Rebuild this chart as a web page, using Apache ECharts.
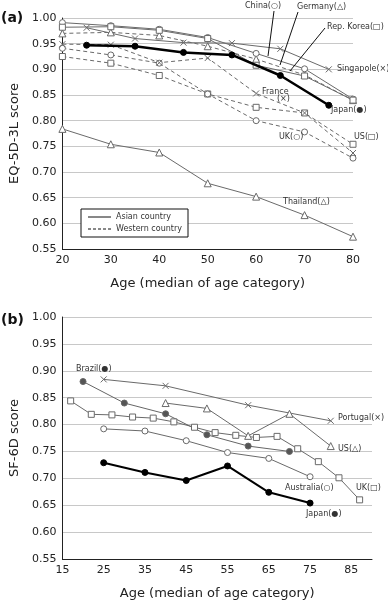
<!DOCTYPE html>
<html>
<head>
<meta charset="utf-8">
<script src="https://cdn.jsdelivr.net/npm/echarts@6/dist/echarts.min.js"></script>
<style>
  html, body { margin: 0; padding: 0; background: #fff; }
  #chart { width: 388px; height: 602px; }
</style>
</head>
<body>
<div id="chart"></div>
<script>
// panel (a): EQ-5D-3L
const ageTen = [20, 30, 40, 50, 60, 70, 80];
const ageMid = [25, 35, 45, 55, 65, 75];
const chinaA = [0.991, 0.985, 0.978, 0.962, 0.931, 0.901, 0.842];
const koreaA = [0.982, 0.983, 0.976, 0.960, 0.908, 0.887, 0.840];
const singaporeA = [0.981, 0.960, 0.952, 0.951, 0.940, 0.900];
const thailandA = [0.784, 0.754, 0.738, 0.678, 0.652, 0.616, 0.574];
const japanA = [0.947, 0.945, 0.933, 0.928, 0.888, 0.830];
const germanyA = [0.970, 0.972, 0.966, 0.945, 0.920, 0.889, 0.840];
const franceA = [0.949, 0.948, 0.913, 0.922, 0.853, 0.815, 0.737];
const ukA = [0.941, 0.928, 0.912, 0.852, 0.800, 0.778, 0.727];
const usA = [0.925, 0.912, 0.888, 0.852, 0.826, 0.815, 0.754];

// panel (b): SF-6D
const brazilAge = [20, 30, 40, 50, 60, 70];
const brazilB = [0.880, 0.840, 0.820, 0.781, 0.760, 0.750];
const portugalAge = [25, 40, 60, 80];
const portugalB = [0.884, 0.872, 0.836, 0.807];
const usAgeB = [40, 50, 60, 70, 80];
const usB = [0.840, 0.830, 0.779, 0.820, 0.760];
const ukAgeB = [17, 22, 27, 32, 37, 42, 47, 52, 57, 62, 67, 72, 77, 82, 87];
const ukB = [0.844, 0.819, 0.818, 0.814, 0.812, 0.805, 0.795, 0.785, 0.780, 0.776, 0.778, 0.755, 0.731, 0.701, 0.660];
const australiaB = [0.792, 0.788, 0.770, 0.748, 0.737, 0.703];
const japanB = [0.729, 0.711, 0.696, 0.723, 0.674, 0.654];

const yTicksFmt = v => v.toFixed(2);

const FONT = 'DejaVu Sans';
const GRAY = '#6a6a6a';
const CROSS = 'path://M0,0L10,10M10,0L0,10';

function zip(xs, ys) { return xs.map((x, i) => [x, ys[i]]); }

function line(idx, xs, ys, symbol, opts) {
  opts = opts || {};
  const col = opts.color || GRAY;
  const isCross = symbol === CROSS;
  return {
    type: 'line',
    xAxisIndex: idx, yAxisIndex: idx,
    data: zip(xs, ys),
    symbol: symbol,
    symbolSize: opts.size || 6,
    showAllSymbol: true,
    z: opts.z || 2,
    animation: false,
    lineStyle: { color: col, width: opts.width || 1, type: opts.dashed ? [4, 3] : 'solid' },
    itemStyle: {
      color: opts.fill || (isCross ? col : '#fff'),
      borderColor: col,
      borderWidth: 1
    },
    emphasis: { disabled: true }
  };
}

function xAxis(idx, min, max) {
  return {
    type: 'value', gridIndex: idx, min: min, max: max, interval: 10,
    name: 'Age (median of age category)', nameLocation: 'middle', nameGap: 28,
    nameTextStyle: { fontFamily: FONT, fontSize: 13, color: '#222' },
    axisLine: { show: true, lineStyle: { color: '#222', width: 1 } },
    axisTick: { show: false },
    splitLine: { show: false },
    axisLabel: { fontFamily: FONT, fontSize: 11, color: '#222', margin: 6, showMaxLabel: idx === 0 }
  };
}

function yAxis(idx, name) {
  return {
    type: 'value', gridIndex: idx, min: 0.55, max: 1.0, interval: 0.05,
    name: name, nameLocation: 'middle', nameGap: 41,
    nameTextStyle: { fontFamily: FONT, fontSize: 13, color: '#222' },
    axisLine: { show: true, lineStyle: { color: '#222', width: 1 } },
    axisTick: { show: false },
    splitLine: { show: true, lineStyle: { color: '#c8c8c8', width: 1 } },
    axisLabel: { fontFamily: FONT, fontSize: 11, color: '#222', margin: 6, formatter: yTicksFmt }
  };
}

function txt(x, y, s, extra) {
  return Object.assign({
    type: 'text', x: x, y: y, z: 10,
    style: { text: s, fontFamily: FONT, fontSize: 8, fill: '#333', verticalAlign: 'middle' }
  }, extra || {});
}
function seg(x1, y1, x2, y2, dashed, w) {
  return {
    type: 'line', z: 10,
    shape: { x1: x1, y1: y1, x2: x2, y2: y2 },
    style: { stroke: '#111', lineWidth: w || 1, lineDash: dashed ? [3, 2] : null }
  };
}

const chart = echarts.init(document.getElementById('chart'));
chart.setOption({
  animation: false,
  backgroundColor: '#fff',
  grid: [
    { left: 62, right: 35, top: 18, bottom: 353 },
    { left: 62, right: 16, top: 317, bottom: 43 }
  ],
  xAxis: [xAxis(0, 20, 80), xAxis(1, 15, 90)],
  yAxis: [yAxis(0, 'EQ-5D-3L score'), yAxis(1, 'SF-6D score')],
  series: [
    line(0, ageTen, thailandA, 'triangle', { size: 7 }),
    line(0, ageTen, usA, 'rect', { dashed: true }),
    line(0, ageTen, ukA, 'circle', { dashed: true }),
    line(0, ageTen, franceA, CROSS, { dashed: true }),
    line(0, ageTen, germanyA, 'triangle', { dashed: true, size: 7 }),
    line(0, ageMid, singaporeA, CROSS),
    line(0, ageTen, chinaA, 'circle'),
    line(0, ageTen, koreaA, 'rect'),
    line(0, ageMid, japanA, 'circle', { color: '#000', fill: '#000', width: 2.5, z: 5 }),

    line(1, portugalAge, portugalB, CROSS),
    line(1, usAgeB, usB, 'triangle', { size: 7 }),
    line(1, ukAgeB, ukB, 'rect', { size: 6 }),
    line(1, brazilAge, brazilB, 'circle', { color: '#666', fill: '#555' }),
    line(1, ageMid, australiaB, 'circle'),
    line(1, ageMid, japanB, 'circle', { color: '#000', fill: '#000', width: 2, z: 5 })
  ],
  graphic: [
    // panel tags
    txt(1, 18, '(a)', { style: { text: '(a)', fontFamily: FONT, fontSize: 14, fontWeight: 'bold', fill: '#111', verticalAlign: 'middle' } }),
    txt(1, 320, '(b)', { style: { text: '(b)', fontFamily: FONT, fontSize: 14, fontWeight: 'bold', fill: '#111', verticalAlign: 'middle' } }),

    // legend box
    { type: 'rect', z: 9, shape: { x: 81, y: 209, width: 107, height: 28 },
      style: { fill: '#fff', stroke: '#111', lineWidth: 1 } },
    seg(88, 217, 111, 217, false),
    seg(88, 229, 111, 229, true),
    txt(116, 217, 'Asian country'),
    txt(116, 229, 'Western country'),

    // panel (a) annotations
    txt(245, 6, 'China(○)'),
    txt(297, 7, 'Germany(△)'),
    txt(327, 27, 'Rep. Korea(□)'),
    seg(274, 11, 268, 56),
    seg(298, 12, 280, 65),
    seg(325, 28, 290, 71),
    txt(337, 69, 'Singapole(×)'),
    txt(262, 92, 'France'),
    txt(277, 99, '(×)'),
    txt(331, 110, 'Japan(●)'),
    txt(279, 137, 'UK(○)'),
    txt(354, 137, 'US(□)'),
    txt(283, 202, 'Thailand(△)'),

    // panel (b) annotations
    txt(76, 369, 'Brazil(●)'),
    txt(338, 418, 'Portugal(×)'),
    txt(338, 449, 'US(△)'),
    txt(285, 488, 'Australia(○)'),
    txt(356, 488, 'UK(□)'),
    txt(306, 514, 'Japan(●)')
  ]
});
</script>
</body>
</html>
